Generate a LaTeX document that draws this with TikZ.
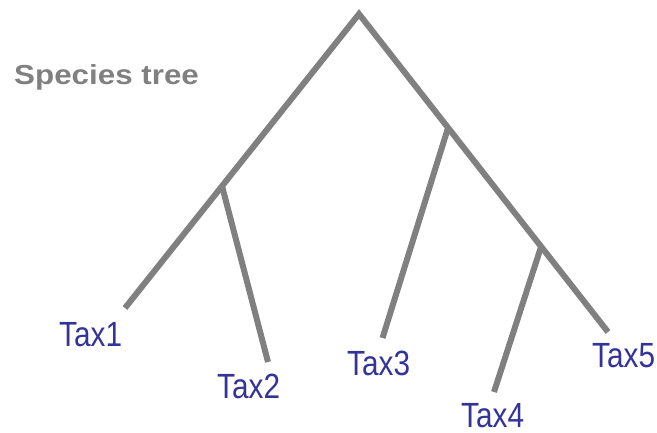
\documentclass[tikz,border=0pt]{standalone}
\usepackage{fontspec}
\setmainfont{Liberation Sans}
\newfontfamily\taxafont[FakeStretch=0.85]{Liberation Sans}
\newfontfamily\headfont[FakeStretch=1.14]{Liberation Sans}
\usetikzlibrary{positioning}
\definecolor{branchgray}{RGB}{128,128,128}
\definecolor{taxblue}{RGB}{51,51,153}
\tikzset{
  branch/.style={line width=6pt,branchgray,line join=miter},
  taxon/.style={font=\taxafont\fontsize{35}{40}\selectfont,text=taxblue,
    inner sep=0pt,anchor=base west},
  treehead/.style={font=\headfont\bfseries\fontsize{27.5}{32}\selectfont,
    text=branchgray,inner sep=0pt,anchor=base west}
}
\begin{document}
\begin{tikzpicture}[x=1pt,y=-1pt]
  \useasboundingbox (0,0) rectangle (657,433);
  % inner nodes
  \coordinate (root) at (359,14);
  \coordinate (nA) at (222,186);
  \coordinate (nB) at (448,128);
  \coordinate (nC) at (541,247);
  % tips
  \coordinate (e1) at (125,308);
  \coordinate (e2) at (268,362);
  \coordinate (e3) at (382.5,338);
  \coordinate (e4) at (494,392);
  \coordinate (e5) at (608,332);
  \draw[branch] (e1) -- (root) -- (e5);
  \draw[branch] (nA) -- (e2);
  \draw[branch] (nB) -- (e3);
  \draw[branch] (nC) -- (e4);
  \node[treehead] (head) at (14,85) {Species tree};
  \node[taxon] (t1) at (59,346) {Tax1};
  \node[taxon] (t2) at (217,398) {Tax2};
  \node[taxon] (t3) at (347,375) {Tax3};
  \node[taxon] (t4) at (461,427) {Tax4};
  \node[taxon] (t5) at (592,367) {Tax5};
\end{tikzpicture}
\end{document}
